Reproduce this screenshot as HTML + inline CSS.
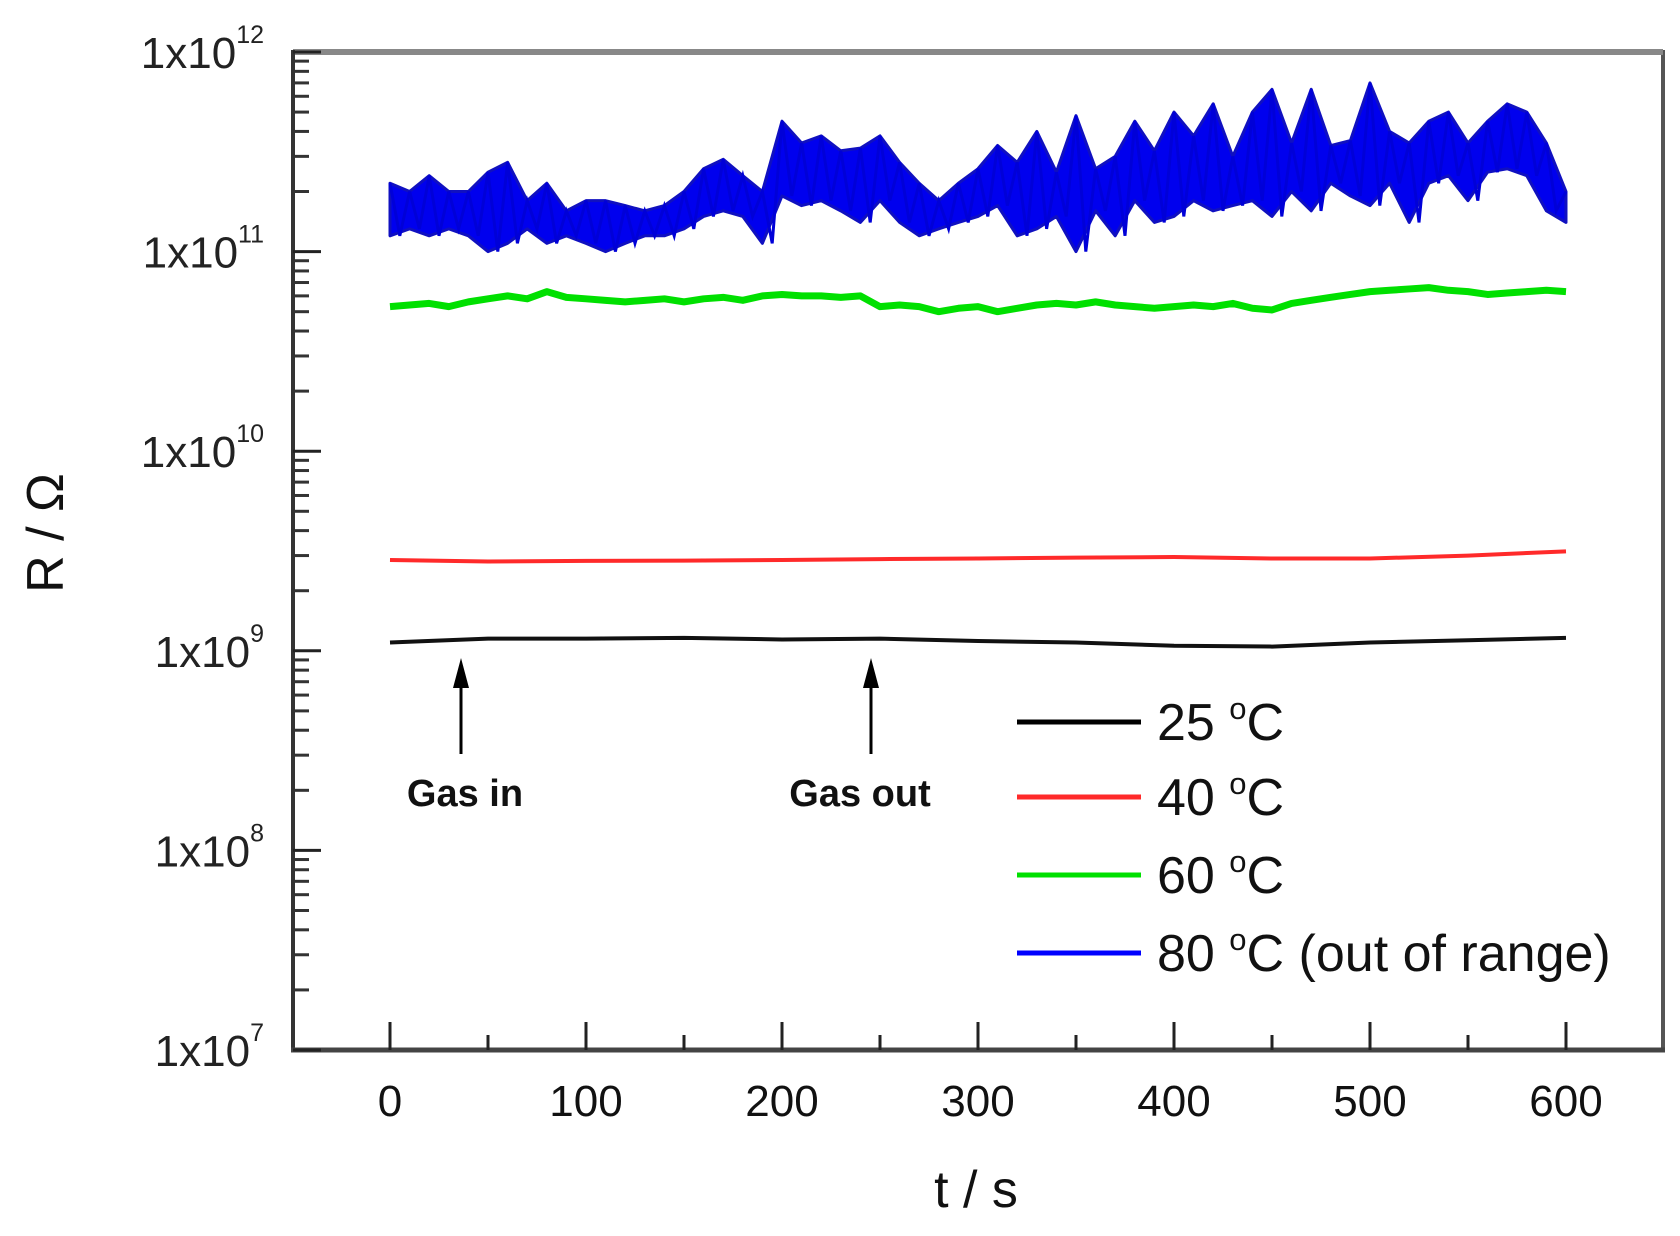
<!DOCTYPE html>
<html><head><meta charset="utf-8"><style>
html,body{margin:0;padding:0;background:#fff;}
svg{display:block;font-family:"Liberation Sans",sans-serif;}
</style></head><body>
<svg id="chart" width="1680" height="1236" viewBox="0 0 1680 1236"></svg>
<script>
const tBlue = [0,10,20,30,40,50,60,70,80,90,100,110,120,130,140,150,160,170,180,190,200,210,220,230,240,250,260,270,280,290,300,310,320,330,340,350,360,370,380,390,400,410,420,430,440,450,460,470,480,490,500,510,520,530,540,550,560,570,580,590,600];
const blueUpper = [2.2,2.0,2.4,2.0,2.0,2.5,2.8,1.8,2.2,1.6,1.8,1.8,1.7,1.6,1.7,2.0,2.6,2.9,2.4,2.0,4.5,3.5,3.8,3.2,3.3,3.8,2.8,2.2,1.8,2.2,2.6,3.4,2.8,4.0,2.5,4.8,2.6,3.0,4.5,3.2,5.0,3.8,5.5,3.0,5.0,6.5,3.5,6.5,3.4,3.6,7.0,4.0,3.5,4.5,5.0,3.5,4.5,5.5,5.0,3.5,2.0];
const blueLower = [1.2,1.3,1.2,1.3,1.2,1.0,1.1,1.3,1.1,1.2,1.1,1.0,1.1,1.2,1.2,1.3,1.5,1.6,1.5,1.1,1.9,1.7,1.8,1.6,1.4,1.8,1.4,1.2,1.3,1.4,1.5,1.7,1.2,1.3,1.5,1.0,1.6,1.2,1.8,1.4,1.5,1.8,1.6,1.7,1.8,1.5,2.0,1.6,2.2,1.9,1.7,2.2,1.4,2.2,2.4,1.8,2.5,2.6,2.4,1.6,1.4];
const greenVals = [5.3,5.4,5.5,5.3,5.6,5.8,6.0,5.8,6.3,5.9,5.8,5.7,5.6,5.7,5.8,5.6,5.8,5.9,5.7,6.0,6.1,6.0,6.0,5.9,6.0,5.3,5.4,5.3,5.0,5.2,5.3,5.0,5.2,5.4,5.5,5.4,5.6,5.4,5.3,5.2,5.3,5.4,5.3,5.5,5.2,5.1,5.5,5.7,5.9,6.1,6.3,6.4,6.5,6.6,6.4,6.3,6.1,6.2,6.3,6.4,6.3];
const tCoarse = [0,50,100,150,200,250,300,350,400,450,500,550,600];
const redVals = [2.85,2.8,2.82,2.83,2.85,2.88,2.9,2.93,2.95,2.9,2.9,3.0,3.15];
const blackVals = [1.10,1.15,1.15,1.16,1.14,1.15,1.12,1.10,1.06,1.05,1.10,1.13,1.16];
const xTicks = [0,100,200,300,400,500,600];
const yExps = [12,11,10,9,8,7];
const legendLabels = ["25 °C","40 °C","60 °C","80 °C (out of range)"];
const legendColors = ["#000000","#ff2a2a","#00e000","#0000ff"];

const NS="http://www.w3.org/2000/svg";
const svg=document.getElementById('chart');
const X0=390, XS=(1566-390)/600;
const Y12=52, DEC=199.6;
function xp(t){return X0+t*XS;}
function yp(v){return Y12+(12-Math.log10(v))*DEC;}
function mk(tag,attrs,parent){const e=document.createElementNS(NS,tag);for(const k in attrs)e.setAttribute(k,attrs[k]);(parent||svg).appendChild(e);return e;}

let fr=mk('rect',{x:293,y:52,width:1370,height:998,fill:'none',stroke:'#555',"stroke-width":4});


mk('line',{x1:293,y1:52,x2:1663,y2:52,stroke:'#888',"stroke-width":6});
mk('line',{x1:293,y1:50,x2:293,y2:1052,stroke:'#333',"stroke-width":4});
mk('line',{x1:291,y1:1050,x2:1665,y2:1050,stroke:'#444',"stroke-width":5});

for(let e=7;e<=12;e++){
  let yy=yp(Math.pow(10,e));
  let tk=mk('line',{x1:293,y1:yy,x2:321,y2:yy,stroke:'#222',"stroke-width":3});
  
  
  if(e<12){for(let m=2;m<=9;m++){let y2=yp(m*Math.pow(10,e));mk('line',{x1:293,y1:y2,x2:309,y2:y2,stroke:'#333',"stroke-width":3});}}
}
yExps.forEach(e=>{
  let yy=yp(Math.pow(10,e));
  let t=mk('text',{x:264,y:yy+16,"text-anchor":"end","font-size":44,fill:'#222'});
  
  
  let a=mk('tspan',{},t);a.textContent='1x10';
  let b=mk('tspan',{"font-size":25,dy:-25},t);b.textContent=String(e);
});
for(let v=0;v<=600;v+=50){
  let major=v%100===0;
  mk('line',{x1:xp(v),y1:1050,x2:xp(v),y2:major?1022:1035,stroke:'#222',"stroke-width":3});
}
xTicks.forEach(v=>{
  let t=mk('text',{x:xp(v),y:1116,"text-anchor":"middle","font-size":44,fill:'#111'});
  
  
  t.textContent=String(v);
});
let xl=mk('text',{x:976,y:1207,"text-anchor":"middle","font-size":52,fill:'#111'});


xl.textContent='t / s';
let yl=mk('text',{x:0,y:0,"text-anchor":"middle","font-size":52,fill:'#111',transform:'translate(63,533) rotate(-90)'});


yl.textContent='R / Ω';

let pts=[];
tBlue.forEach((t,i)=>pts.push(xp(t)+','+yp(blueUpper[i]*1e11)));
for(let i=tBlue.length-1;i>=0;i--)pts.push(xp(tBlue[i])+','+yp(blueLower[i]*1e11));
let bb=mk('polygon',{points:pts.join(' '),fill:'#0000ee',stroke:'#1010c0',"stroke-width":3,"stroke-linejoin":"round"});


let zig=[];
tBlue.forEach((t,i)=>{zig.push(xp(t)+','+yp(blueUpper[i]*1e11));zig.push((xp(t)+9.8)+','+yp(blueLower[i]*1e11));});
mk('polyline',{points:zig.slice(0,-1).join(' '),fill:'none',stroke:'#0000d8',"stroke-width":3});

function series(ts,vals,scale,color,w,name){
  let p=ts.map((t,i)=>xp(t)+','+yp(vals[i]*scale)).join(' ');
  let l=mk('polyline',{points:p,fill:'none',stroke:color,"stroke-width":w,"stroke-linejoin":"round"});
  
  
}
series(tBlue,greenVals,1e10,'#00e000',7,'series-60c');
series(tCoarse,redVals,1e9,'#ff2a2a',4,'series-40c');
series(tCoarse,blackVals,1e9,'#111',4,'series-25c');

function arrow(x,label,tx,name){
  let g=mk('g',{});
  
  
  mk('line',{x1:x,y1:666,x2:x,y2:754,stroke:'#000',"stroke-width":3},g);
  mk('polygon',{points:(x-8)+',688 '+x+',658 '+(x+8)+',688',fill:'#000'},g);
  let t=mk('text',{x:tx,y:806,"text-anchor":"middle","font-size":38,"font-weight":"bold",fill:'#111'},g);
  t.textContent=label;
}
arrow(461,'Gas in',465,'gas-in-annotation');
arrow(871,'Gas out',860,'gas-out-annotation');

const legY=[722,797,875,953];
legendLabels.forEach((lab,i)=>{
  let g=mk('g',{});
  
  
  mk('line',{x1:1017,y1:legY[i],x2:1141,y2:legY[i],stroke:legendColors[i],"stroke-width":5},g);
  let t=mk('text',{x:1157,y:legY[i]+18,"font-size":52,fill:'#111'},g);
  let num=lab.split(' ')[0];
  let rest=lab.slice(lab.indexOf('°C')+2);
  let a=mk('tspan',{},t);a.textContent=num+' ';
  let b=mk('tspan',{"font-size":31,dy:-21},t);b.textContent='o';
  let c=mk('tspan',{dy:21},t);c.textContent='C'+rest;
});
</script>
</body></html>
